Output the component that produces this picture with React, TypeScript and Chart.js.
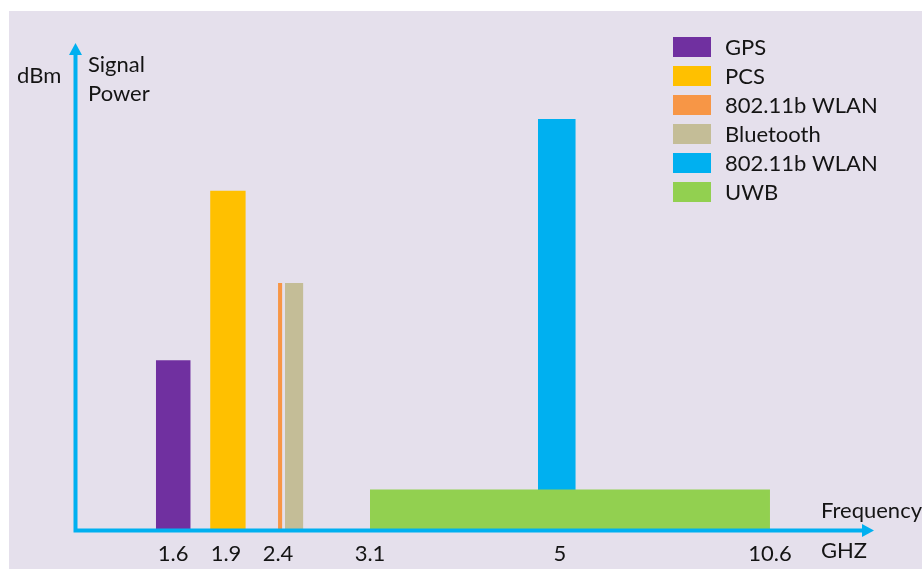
import React, { useEffect, useRef } from 'react';
import { Chart, registerables, LinearScale } from 'chart.js';

Chart.register(...registerables);

// ---- data ----
const SERIES = ['GPS', 'PCS', '802.11b WLAN', 'Bluetooth', '802.11b WLAN', 'UWB'];
const BAND_START = [1.32, 1.81, 2.4, 2.453, 4.78, 3.1]; // GHz
const BAND_END = [1.7, 2.09, 2.433, 2.593, 5.42, 10.6]; // GHz
const POWER = [34.8, 69.5, 50.6, 50.6, 84.2, 8.3]; // relative signal power
const COLORS = ['#7030A0', '#FFC000', '#F79646', '#C4BD97', '#00B0F0', '#92D050'];
const FREQ_TICKS = [1.6, 1.9, 2.4, 3.1, 5, 10.6];
const TICK_LABELS = ['1.6', '1.9', '2.4', '3.1', '5', '10.6'];
// schematic (non-linear) frequency axis: frequency -> fraction of axis length
const AXIS_FREQ = [0, 1.6, 1.9, 2.4, 3.1, 5, 10.6, 13.4];
const AXIS_FRAC = [0, 0.1227, 0.189, 0.2541, 0.3692, 0.607, 0.8698, 1];

const FONT = 'Lato';
const FONT_SIZE = 22;
const TEXT = '#141414';
const AXIS_COLOR = '#00B0F0';
const BG = '#E5E0EC';

function interp(v: number, xs: number[], ys: number[]) {
  const n = xs.length;
  let i = 0;
  while (i < n - 2 && v > xs[i + 1]) i++;
  const x0 = xs[i], x1 = xs[i + 1];
  return ys[i] + ((v - x0) / (x1 - x0)) * (ys[i + 1] - ys[i]);
}
const freqToFrac = (f: number) => interp(f, AXIS_FREQ, AXIS_FRAC);
const fracToFreq = (p: number) => interp(p, AXIS_FRAC, AXIS_FREQ);

class SchematicScale extends LinearScale {
  static id = 'schematic';
  determineDataLimits() {
    (this as any).min = 0;
    (this as any).max = 1;
  }
  buildTicks() {
    return FREQ_TICKS.map((v) => ({ value: v }));
  }
  getPixelForValue(value: number) {
    return super.getPixelForValue(freqToFrac(value));
  }
  getValueForPixel(pixel: number) {
    return fracToFreq(super.getValueForPixel(pixel) as number);
  }
}
Chart.register(SchematicScale as any);

const decorPlugin = {
  id: 'decor',
  beforeDraw(chart: any) {
    const ctx = chart.ctx;
    ctx.save();
    ctx.fillStyle = '#ffffff';
    ctx.fillRect(0, 0, chart.width, chart.height);
    ctx.fillStyle = BG;
    ctx.fillRect(9, 11, chart.width - 9, chart.height - 11);
    ctx.restore();
  },
  afterDatasetsDraw(chart: any) {
    const ctx = chart.ctx;
    const { left, right, top, bottom } = chart.chartArea;
    const ax = left + 0.5;
    const ay = bottom + 0.5;
    ctx.save();
    // axes
    ctx.strokeStyle = AXIS_COLOR;
    ctx.fillStyle = AXIS_COLOR;
    ctx.lineWidth = 4;
    ctx.lineJoin = 'miter';
    ctx.beginPath();
    ctx.moveTo(ax, top + 11);
    ctx.lineTo(ax, ay);
    ctx.lineTo(right - 11, ay);
    ctx.stroke();
    // arrow heads
    ctx.beginPath();
    ctx.moveTo(ax, top + 1);
    ctx.lineTo(ax - 6.5, top + 13);
    ctx.lineTo(ax + 6.5, top + 13);
    ctx.closePath();
    ctx.fill();
    ctx.beginPath();
    ctx.moveTo(right, ay);
    ctx.lineTo(right - 12, ay - 6.5);
    ctx.lineTo(right - 12, ay + 6.5);
    ctx.closePath();
    ctx.fill();

    // axis texts
    ctx.fillStyle = TEXT;
    ctx.font = `${FONT_SIZE}px ${FONT}`;
    ctx.textBaseline = 'alphabetic';
    ctx.textAlign = 'left';
    ctx.fillText('dBm', 17, 83);
    ctx.fillText('Signal', 88, 72);
    ctx.fillText('Power', 88, 101);
    ctx.fillText('Frequency', 821, 518);
    ctx.fillText('GHZ', 821, 558);

    // legend
    const ds = chart.data.datasets;
    ctx.textBaseline = 'middle';
    ds.forEach((d: any, i: number) => {
      const cy = 47.3 + i * 28.9;
      ctx.fillStyle = d.backgroundColor;
      ctx.fillRect(673, Math.round(cy - 10), 38, 20);
      ctx.fillStyle = TEXT;
      ctx.fillText(d.label, 725, cy + 1);
    });
    ctx.restore();
  },
};

export default function App() {
  const ref = useRef<HTMLCanvasElement>(null);
  useEffect(() => {
    Chart.defaults.font.family = FONT;
    Chart.defaults.font.size = FONT_SIZE;
    Chart.defaults.color = TEXT;
    const datasets = SERIES.map((label, i) => ({
      label,
      data: [
        { x: BAND_START[i], y: 0 },
        { x: BAND_START[i], y: POWER[i] },
        { x: BAND_END[i], y: POWER[i] },
        { x: BAND_END[i], y: 0 },
      ],
      backgroundColor: COLORS[i],
      borderColor: 'rgba(0,0,0,0)',
      borderWidth: 0,
      pointRadius: 0,
      pointHitRadius: 0,
      tension: 0,
      fill: 'origin',
      order: i === SERIES.length - 1 ? -1 : 0,
    }));
    const chart = new Chart(ref.current as HTMLCanvasElement, {
      type: 'line',
      data: { datasets },
      options: {
        responsive: false,
        animation: false,
        events: [],
        layout: { padding: { left: 75, top: 42, right: 48, bottom: 0 } },
        plugins: { legend: { display: false }, tooltip: { enabled: false } },
        scales: {
          x: {
            type: 'schematic',
            grid: { display: false },
            border: { display: false },
            ticks: {
              autoSkip: false,
              maxRotation: 0,
              padding: 3,
              color: TEXT,
              font: { family: FONT, size: FONT_SIZE },
              callback: (_v: any, i: number) => TICK_LABELS[i],
            },
            afterFit: (s: any) => {
              s.height = 39;
            },
          },
          y: { display: false, min: 0, max: 100 },
        },
      } as any,
      plugins: [decorPlugin],
    } as any);
    return () => chart.destroy();
  }, []);
  return (
    <div
      style={{
        position: 'fixed',
        left: 0,
        top: 0,
        width: 922,
        height: 569,
        overflow: 'hidden',
        background: '#fff',
      }}
    >
      <canvas ref={ref} width={922} height={569} style={{ display: 'block' }} />
    </div>
  );
}
